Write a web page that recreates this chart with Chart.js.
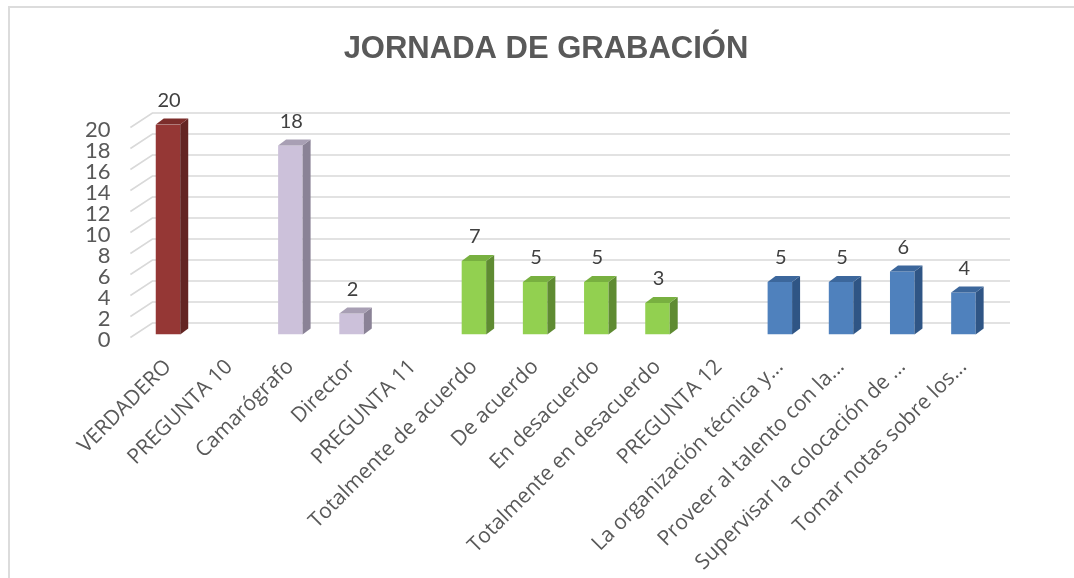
<!DOCTYPE html>
<html>
<head>
<meta charset="utf-8">
<script src="https://cdn.jsdelivr.net/npm/chart.js@4.4.1/dist/chart.umd.min.js"></script>
<style>
  html, body { margin: 0; padding: 0; background: #fff; }
  #wrap { position: relative; width: 1074px; height: 578px; overflow: hidden; }
  #frame { position: absolute; left: 8px; top: 6px; right: -10px; bottom: -10px;
           border-top: 2px solid #dcdcdc; border-left: 2px solid #dcdcdc; pointer-events: none; }
  canvas { position: absolute; left: 0; top: 0; }
</style>
</head>
<body>
<div id="wrap">
  <canvas id="c" width="1074" height="578"></canvas>
  <div id="frame"></div>
</div>
<script>
const chartTitle = 'JORNADA DE GRABACIÓN';
const categories = [
  'VERDADERO', 'PREGUNTA 10', 'Camarógrafo', 'Director', 'PREGUNTA 11',
  'Totalmente de acuerdo', 'De acuerdo', 'En desacuerdo', 'Totalmente en desacuerdo',
  'PREGUNTA 12', 'La organización técnica y...', 'Proveer al talento con la...',
  'Supervisar la colocación de ...', 'Tomar notas sobre los...'
];
const values = [20, null, 18, 2, null, 7, 5, 5, 3, null, 5, 5, 6, 4];
const colorGroup = [0, null, 1, 1, null, 2, 2, 2, 2, null, 3, 3, 3, 3];
const frontColors = ['#953735', '#ccc1da', '#92d050', '#4f81bd'];
const sideColors  = ['#632523', '#8a8296', '#5f8b32', '#2f5585'];
const topColors   = ['#7c2d2b', '#a89fb4', '#78b040', '#3c679c'];
const yTicksMin = 0, yTicksMax = 20, yTicksStep = 2;

const DX = 8, DY = 6;        // bar depth offset
const WX = 15, WY = 11.5;    // wall depth offset

const threeD = {
  id: 'threeD',
  beforeDatasetsDraw(chart) {
    const ctx = chart.ctx, ys = chart.scales.y, ca = chart.chartArea;
    ctx.save();
    ctx.strokeStyle = '#d9d9d9';
    ctx.lineWidth = 1.6;
    ys.ticks.forEach(t => {
      const yf = ys.getPixelForValue(t.value);
      ctx.beginPath();
      ctx.moveTo(ca.left - 7, yf + 3);
      ctx.lineTo(ca.left + WX, yf - WY);
      ctx.lineTo(ca.right + 16, yf - WY);
      ctx.stroke();
    });
    ctx.restore();
  },
  afterDatasetsDraw(chart) {
    const ctx = chart.ctx;
    const meta = chart.getDatasetMeta(0);
    ctx.save();
    meta.data.forEach((bar, i) => {
      const v = values[i];
      if (v === null || v === undefined) return;
      const g = colorGroup[i];
      const l = bar.x - bar.width / 2, r = bar.x + bar.width / 2;
      const top = bar.y, base = bar.base;
      ctx.fillStyle = sideColors[g];
      ctx.beginPath();
      ctx.moveTo(r, top);
      ctx.lineTo(r + DX, top - DY);
      ctx.lineTo(r + DX, base - DY);
      ctx.lineTo(r, base);
      ctx.closePath();
      ctx.fill();
      ctx.fillStyle = topColors[g];
      ctx.beginPath();
      ctx.moveTo(l, top);
      ctx.lineTo(l + DX, top - DY);
      ctx.lineTo(r + DX, top - DY);
      ctx.lineTo(r, top);
      ctx.closePath();
      ctx.fill();
      ctx.fillStyle = '#404040';
      ctx.font = '20px Lato, "Open Sans", sans-serif';
      ctx.textAlign = 'center';
      ctx.textBaseline = 'middle';
      ctx.fillText(String(v), bar.x + 1, top - 24);
    });
    ctx.restore();
  }
};

new Chart(document.getElementById('c'), {
  type: 'bar',
  data: {
    labels: categories,
    datasets: [{
      data: values,
      backgroundColor: colorGroup.map(g => g === null ? 'rgba(0,0,0,0)' : frontColors[g]),
      borderWidth: 0,
      barPercentage: 0.4,
      categoryPercentage: 1.0
    }]
  },
  options: {
    responsive: false,
    animation: false,
    devicePixelRatio: 1,
    layout: { padding: { left: 50, right: 32, top: 0, bottom: 0 } },
    plugins: {
      legend: { display: false },
      tooltip: { enabled: false },
      title: {
        display: true,
        text: chartTitle,
        color: '#595959',
        font: { family: '"Liberation Sans", Arial, sans-serif', size: 31, weight: 'bold' },
        padding: { top: 31, bottom: 56.3 }
      }
    },
    scales: {
      x: {
        grid: { display: false, drawTicks: false },
        border: { display: false },
        ticks: {
          color: '#595959',
          font: { family: '"Open Sans", Lato, sans-serif', size: 21 },
          minRotation: 45, maxRotation: 45,
          autoSkip: false,
          padding: 20
        },
        afterFit(s) { s.height = 578 - 334.5; }
      },
      y: {
        min: yTicksMin, max: yTicksMax,
        grid: { display: false, drawTicks: false },
        border: { display: false },
        ticks: {
          stepSize: yTicksStep,
          autoSkip: false,
          color: '#595959',
          font: { family: 'Lato, "Open Sans", sans-serif', size: 22 },
          padding: 27,
          labelOffset: 5
        },
        afterFit(s) { s.width = 87.4; }
      },
      yRight: {
        position: 'right',
        min: yTicksMin, max: yTicksMax,
        grid: { display: false, drawTicks: false },
        border: { display: false },
        ticks: { display: false },
        afterFit(s) { s.width = 48; }
      }
    }
  },
  plugins: [threeD]
});
</script>
</body>
</html>
